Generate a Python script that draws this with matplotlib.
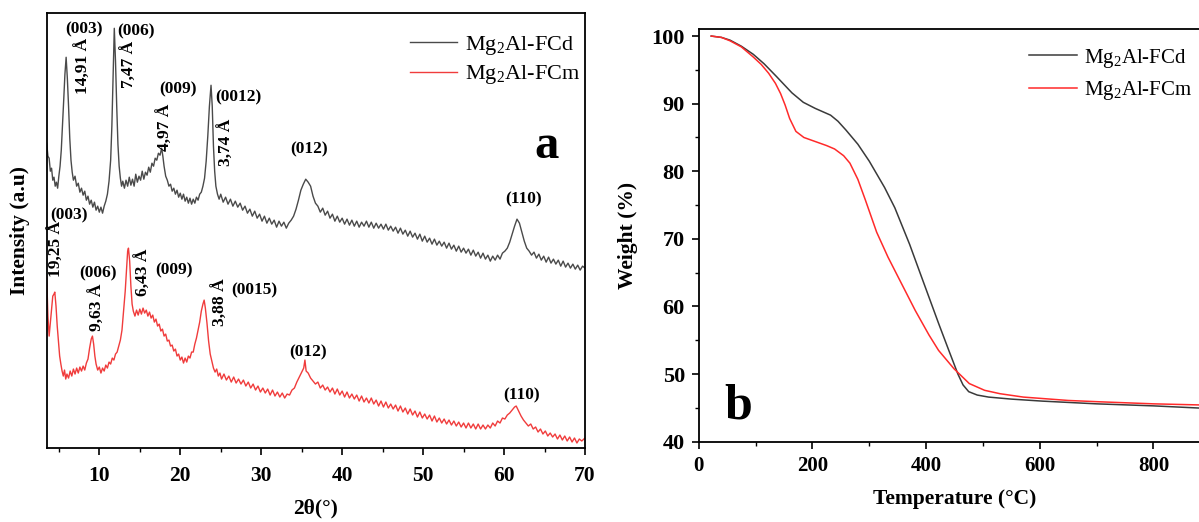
import matplotlib
matplotlib.use("Agg")
import matplotlib.pyplot as plt
from matplotlib.ticker import MultipleLocator

plt.rcParams['font.family'] = ['Liberation Serif', 'DejaVu Serif']
plt.rcParams['mathtext.fontset'] = 'custom'
plt.rcParams['mathtext.rm'] = 'Liberation Serif'
plt.rcParams['mathtext.bf'] = 'Liberation Serif:bold'

# ---- XRD data (2theta, intensity a.u.) ----
tth_fcd = [3.5, 3.65, 3.8, 3.95, 4.1, 4.25, 4.4, 4.55, 4.7, 4.85, 5.0, 5.15, 5.3, 5.45, 5.6, 5.75, 5.9, 6.05, 6.2, 6.35,
           6.5, 6.65, 6.8, 7.0, 7.2, 7.4, 7.6, 7.8, 8.0, 8.2, 8.4, 8.6, 8.8, 9.0, 9.2, 9.4, 9.6, 9.8, 10.0, 10.2,
           10.4, 10.6, 10.8, 11.0, 11.2, 11.4, 11.55, 11.7, 11.85, 12.0, 12.15, 12.3, 12.45, 12.6, 12.75, 12.9, 13.1, 13.3, 13.5, 13.7,
           13.9, 14.1, 14.3, 14.5, 14.7, 14.9, 15.1, 15.3, 15.5, 15.7, 15.9, 16.1, 16.3, 16.5, 16.7, 16.9, 17.1, 17.3, 17.5, 17.7,
           17.85, 18.0, 18.2, 18.4, 18.6, 18.8, 19.0, 19.2, 19.4, 19.6, 19.8, 20.0, 20.2, 20.4, 20.6, 20.8, 21.0, 21.2, 21.4, 21.6,
           21.8, 22.0, 22.2, 22.4, 22.6, 22.8, 23.0, 23.2, 23.4, 23.6, 23.8, 23.95, 24.1, 24.25, 24.4, 24.6, 24.8, 25.0, 25.3, 25.6,
           25.9, 26.2, 26.5, 26.8, 27.1, 27.4, 27.7, 28.0, 28.3, 28.6, 28.9, 29.2, 29.5, 29.8, 30.1, 30.4, 30.7, 31.0, 31.3, 31.6,
           31.9, 32.2, 32.5, 32.8, 33.1, 33.4, 33.7, 34.0, 34.3, 34.6, 34.9, 35.2, 35.5, 35.8, 36.1, 36.4, 36.7, 37.0, 37.3, 37.6,
           37.9, 38.2, 38.5, 38.8, 39.1, 39.4, 39.7, 40.0, 40.3, 40.6, 40.9, 41.2, 41.5, 41.8, 42.1, 42.4, 42.7, 43.0, 43.3, 43.6,
           43.9, 44.2, 44.5, 44.8, 45.1, 45.4, 45.7, 46.0, 46.3, 46.6, 46.9, 47.2, 47.5, 47.8, 48.1, 48.4, 48.7, 49.0, 49.3, 49.6,
           49.9, 50.2, 50.5, 50.8, 51.1, 51.4, 51.7, 52.0, 52.3, 52.6, 52.9, 53.2, 53.5, 53.8, 54.1, 54.4, 54.7, 55.0, 55.3, 55.6,
           55.9, 56.2, 56.5, 56.8, 57.1, 57.4, 57.7, 58.0, 58.3, 58.6, 58.9, 59.2, 59.5, 59.8, 60.1, 60.4, 60.7, 61.0, 61.3, 61.6,
           61.9, 62.2, 62.5, 62.8, 63.1, 63.4, 63.7, 64.0, 64.3, 64.6, 64.9, 65.2, 65.5, 65.8, 66.1, 66.4, 66.7, 67.0, 67.3, 67.6,
           67.9, 68.2, 68.5, 68.8, 69.1, 69.4, 69.7, 70.0]
int_fcd = [313, 300, 298, 285, 288, 276, 279, 270, 274, 268, 280, 290, 306, 330, 356, 382, 399, 378, 350, 318,
           296, 284, 276, 280, 270, 273, 264, 268, 261, 265, 256, 260, 252, 256, 249, 254, 246, 250, 244, 249,
           243, 250, 255, 262, 275, 296, 330, 380, 428, 395, 350, 312, 290, 278, 270, 275, 268, 276, 270, 279,
           271, 277, 270, 282, 274, 280, 276, 285, 277, 284, 281, 289, 284, 293, 290, 298, 296, 303, 301, 308,
           300, 290, 280, 276, 270, 272, 265, 268, 262, 266, 259, 263, 257, 262, 255, 259, 253, 258, 252, 257,
           253, 259, 256, 262, 264, 270, 278, 295, 320, 350, 371, 350, 310, 285, 270, 262, 257, 262, 254, 259,
           252, 257, 250, 255, 249, 253, 246, 250, 243, 247, 240, 245, 238, 242, 235, 240, 233, 238, 232, 236,
           229, 235, 230, 234, 228, 233, 236, 240, 247, 256, 266, 272, 277, 274, 270, 260, 253, 250, 244, 248,
           241, 245, 238, 242, 235, 240, 234, 238, 232, 237, 231, 236, 230, 235, 229, 234, 230, 235, 229, 234,
           228, 233, 228, 232, 227, 232, 226, 230, 225, 229, 223, 228, 222, 226, 220, 225, 219, 223, 217, 222,
           215, 220, 214, 218, 212, 217, 211, 215, 210, 214, 208, 213, 207, 211, 205, 210, 204, 208, 203, 207,
           201, 206, 200, 204, 198, 203, 197, 201, 195, 200, 196, 201, 197, 203, 205, 208, 214, 222, 230, 237,
           233, 224, 215, 208, 205, 201, 204, 198, 202, 196, 200, 194, 199, 193, 197, 192, 196, 190, 195, 189,
           193, 188, 192, 187, 191, 186, 190, 188]

tth_fcm = [3.5, 3.65, 3.8, 3.95, 4.1, 4.25, 4.4, 4.5, 4.65, 4.8, 4.95, 5.1, 5.25, 5.4, 5.55, 5.7, 5.85, 6.0, 6.2, 6.4,
           6.6, 6.8, 7.0, 7.2, 7.4, 7.6, 7.8, 8.0, 8.2, 8.4, 8.6, 8.8, 9.0, 9.15, 9.3, 9.45, 9.6, 9.8, 10.0, 10.2,
           10.4, 10.6, 10.8, 11.0, 11.2, 11.4, 11.6, 11.8, 12.0, 12.2, 12.4, 12.6, 12.8, 13.0, 13.2, 13.35, 13.5, 13.6, 13.75, 13.9,
           14.05, 14.2, 14.4, 14.6, 14.8, 15.0, 15.2, 15.4, 15.6, 15.8, 16.0, 16.2, 16.4, 16.6, 16.8, 17.0, 17.2, 17.4, 17.6, 17.8,
           18.0, 18.2, 18.4, 18.6, 18.8, 19.0, 19.2, 19.4, 19.6, 19.8, 20.0, 20.2, 20.4, 20.6, 20.8, 21.0, 21.2, 21.4, 21.6, 21.8,
           22.0, 22.2, 22.4, 22.6, 22.8, 22.95, 23.1, 23.3, 23.5, 23.7, 23.9, 24.1, 24.3, 24.5, 24.7, 24.9, 25.1, 25.4, 25.7, 26.0,
           26.3, 26.6, 26.9, 27.2, 27.5, 27.8, 28.1, 28.4, 28.7, 29.0, 29.3, 29.6, 29.9, 30.2, 30.5, 30.8, 31.1, 31.4, 31.7, 32.0,
           32.3, 32.6, 32.9, 33.2, 33.5, 33.8, 34.1, 34.4, 34.7, 35.0, 35.25, 35.4, 35.55, 35.8, 36.1, 36.4, 36.7, 37.0, 37.3, 37.6,
           37.9, 38.2, 38.5, 38.8, 39.1, 39.4, 39.7, 40.0, 40.3, 40.6, 40.9, 41.2, 41.5, 41.8, 42.1, 42.4, 42.7, 43.0, 43.3, 43.6,
           43.9, 44.2, 44.5, 44.8, 45.1, 45.4, 45.7, 46.0, 46.3, 46.6, 46.9, 47.2, 47.5, 47.8, 48.1, 48.4, 48.7, 49.0, 49.3, 49.6,
           49.9, 50.2, 50.5, 50.8, 51.1, 51.4, 51.7, 52.0, 52.3, 52.6, 52.9, 53.2, 53.5, 53.8, 54.1, 54.4, 54.7, 55.0, 55.3, 55.6,
           55.9, 56.2, 56.5, 56.8, 57.1, 57.4, 57.7, 58.0, 58.3, 58.6, 58.9, 59.2, 59.5, 59.8, 60.1, 60.4, 60.7, 61.0, 61.3, 61.5,
           61.8, 62.1, 62.4, 62.7, 63.0, 63.3, 63.6, 63.9, 64.2, 64.5, 64.8, 65.1, 65.4, 65.7, 66.0, 66.3, 66.6, 66.9, 67.2, 67.5,
           67.8, 68.1, 68.4, 68.7, 69.0, 69.3, 69.6, 70.0]
int_fcm = [179, 140, 120, 133, 145, 160, 162, 164, 150, 130, 115, 100, 92, 85, 80, 86, 77, 82, 78, 85,
           80, 87, 82, 88, 83, 89, 85, 90, 86, 93, 97, 108, 117, 120, 112, 100, 92, 86, 89, 83,
           88, 85, 91, 88, 94, 92, 98, 96, 102, 104, 110, 116, 126, 145, 165, 185, 205, 208, 195, 170,
           152, 145, 140, 146, 141, 147, 142, 148, 143, 146, 140, 144, 138, 141, 134, 137, 130, 132, 125, 127,
           120, 122, 115, 116, 110, 111, 105, 107, 100, 102, 96, 99, 93, 98, 94, 100, 98, 104, 104, 112,
           118, 126, 134, 145, 152, 156, 148, 133, 115, 102, 95, 88, 84, 87, 80, 83, 77, 82, 76, 80,
           74, 79, 73, 77, 72, 76, 70, 74, 68, 72, 66, 70, 64, 68, 63, 67, 61, 66, 60, 64,
           59, 63, 58, 62, 61, 66, 68, 74, 79, 84, 88, 96, 85, 83, 78, 75, 72, 74, 68, 71,
           66, 69, 64, 68, 62, 67, 61, 65, 59, 64, 58, 62, 57, 61, 55, 60, 54, 58, 53, 58,
           52, 56, 50, 55, 49, 54, 48, 52, 47, 51, 45, 50, 44, 48, 42, 47, 41, 45, 39, 44,
           38, 42, 37, 41, 35, 40, 34, 38, 33, 37, 32, 36, 31, 35, 30, 34, 29, 33, 28, 33,
           28, 32, 27, 32, 27, 31, 27, 31, 28, 33, 30, 35, 33, 38, 37, 41, 43, 46, 49, 50,
           45, 40, 36, 33, 30, 32, 27, 29, 24, 27, 22, 25, 20, 23, 19, 22, 17, 21, 16, 20,
           15, 19, 14, 18, 13, 17, 15, 18]

# peak labels: (text, 2theta, intensity, rotation)
xrd_labels = [
    ("(003)", 8.1, 427, 0), ("14,91 Å", 8.05, 390, 90),
    ("(006)", 14.5, 425, 0), ("7,47 Å", 13.8, 392, 90),
    ("(009)", 19.7, 367, 0), ("4,97 Å", 18.2, 329, 90),
    ("(0012)", 27.2, 359, 0), ("3,74 Å", 25.7, 314, 90),
    ("(012)", 35.9, 307, 0), ("(110)", 62.4, 257, 0),
    ("(003)", 6.2, 241, 0), ("19,25 Å", 4.7, 207, 90),
    ("(006)", 9.8, 183, 0), ("9,63 Å", 9.8, 149, 90),
    ("6,43 Å", 15.5, 184, 90), ("(009)", 19.2, 186, 0),
    ("3,88 Å", 25.0, 154, 90), ("(0015)", 29.1, 166, 0),
    ("(012)", 35.8, 104, 0), ("(110)", 62.2, 61, 0),
]

# ---- TGA data ----
temp_fcd = [22, 40, 55, 75, 96, 115, 137, 164, 184, 205, 232, 245, 259, 280, 300, 327, 345, 371, 391, 422,
            440, 456, 465, 475, 490, 510, 550, 605, 700, 800, 900]
wt_fcd = [100, 99.8, 99.4, 98.5, 97.3, 95.9, 94.0, 91.6, 90.2, 89.3, 88.3, 87.4, 86.1, 84.0, 81.5, 77.6, 74.6, 69.2, 64.6, 57.5,
          53.5, 50.0, 48.4, 47.4, 46.9, 46.6, 46.3, 46.0, 45.6, 45.3, 44.9]
temp_fcm = [22, 40, 55, 75, 96, 110, 123, 135, 144, 152, 160, 171, 185, 205, 225, 239, 255, 266, 280, 293,
            313, 333, 350, 381, 405, 422, 449, 476, 503, 530, 571, 650, 706, 800, 900]
wt_fcm = [100, 99.8, 99.3, 98.4, 96.9, 95.8, 94.5, 93.0, 91.5, 89.8, 87.8, 85.9, 85.0, 84.4, 83.8, 83.3, 82.3, 81.2, 78.8, 75.8,
          71.0, 67.3, 64.5, 59.4, 55.8, 53.5, 50.8, 48.6, 47.6, 47.1, 46.6, 46.1, 45.9, 45.6, 45.4]

names = ["Mg$_2$Al-FCd", "Mg$_2$Al-FCm"]
c_fcd = "#4a4a4a"
c_fcm = "#f03c3c"

fig = plt.figure(figsize=(11.99, 5.22), dpi=100)

# ---- (a) XRD ----
ax1 = fig.add_axes([0.03895, 0.14176, 0.44896, 0.83276])
ax1.plot(tth_fcd, int_fcd, color=c_fcd, lw=1.0, label=names[0])
ax1.plot(tth_fcm, int_fcm, color=c_fcm, lw=1.0, label=names[1])
ax1.set_xlim(3.5, 70)
ax1.set_ylim(8, 443)
ax1.set_yticks([])
ax1.xaxis.set_major_locator(MultipleLocator(10))
ax1.xaxis.set_minor_locator(MultipleLocator(5))
ax1.tick_params(axis='x', which='major', direction='out', length=5, width=1.2, pad=8, labelsize=15.5)
ax1.tick_params(axis='x', which='minor', direction='out', length=3, width=1.0)
for lbl in ax1.get_xticklabels():
    lbl.set_fontweight('bold')
ax1.set_xlabel("2θ(°)", fontsize=15.5, fontweight='bold', labelpad=9)
ax1.set_ylabel("Intensity (a.u)", fontsize=15.5, fontweight='bold', labelpad=12)
for s in ax1.spines.values():
    s.set_linewidth(1.3)
for txt, x, y, rot in xrd_labels:
    ax1.text(x, y, txt, rotation=rot, ha='center', va='center', fontsize=12.5, fontweight='bold')
ax1.text(65.3, 298, "a", ha='center', va='baseline', fontsize=35, fontweight='bold')
ax1.legend(loc='upper left', bbox_to_anchor=(0.675, 0.953), frameon=False, fontsize=16,
           handlelength=2.1, handletextpad=0.35, labelspacing=0.3, borderpad=0, borderaxespad=0)

# ---- (b) TGA ----
ax2 = fig.add_axes([0.58274, 0.15383, 0.42669, 0.79004])
ax2.plot(temp_fcd, wt_fcd, color="#3a3a3a", lw=1.1, label=names[0])
ax2.plot(temp_fcm, wt_fcm, color="#ff2a2a", lw=1.1, label=names[1])
ax2.set_xlim(0, 900)
ax2.set_ylim(40, 101)
ax2.xaxis.set_major_locator(MultipleLocator(200))
ax2.xaxis.set_minor_locator(MultipleLocator(100))
ax2.yaxis.set_major_locator(MultipleLocator(10))
ax2.yaxis.set_minor_locator(MultipleLocator(5))
ax2.tick_params(axis='both', which='major', direction='out', length=5, width=1.2, pad=5)
ax2.tick_params(axis='both', which='minor', direction='out', length=3, width=1.0)
ax2.tick_params(axis='x', labelsize=15)
ax2.tick_params(axis='y', labelsize=16)
for lbl in ax2.get_xticklabels() + ax2.get_yticklabels():
    lbl.set_fontweight('bold')
ax2.set_xlabel("Temperature (°C)", fontsize=15.5, fontweight='bold', labelpad=10)
ax2.set_ylabel("Weight (%)", fontsize=15.5, fontweight='bold', labelpad=10)
for s in ax2.spines.values():
    s.set_linewidth(1.3)
ax2.text(69, 43.5, "b", ha='center', va='baseline', fontsize=36, fontweight='bold')
ax2.legend(loc='upper left', bbox_to_anchor=(0.645, 0.958), frameon=False, fontsize=15,
           handlelength=2.3, handletextpad=0.35, labelspacing=0.45, borderpad=0, borderaxespad=0)

fig.savefig("out.png", dpi=100)
